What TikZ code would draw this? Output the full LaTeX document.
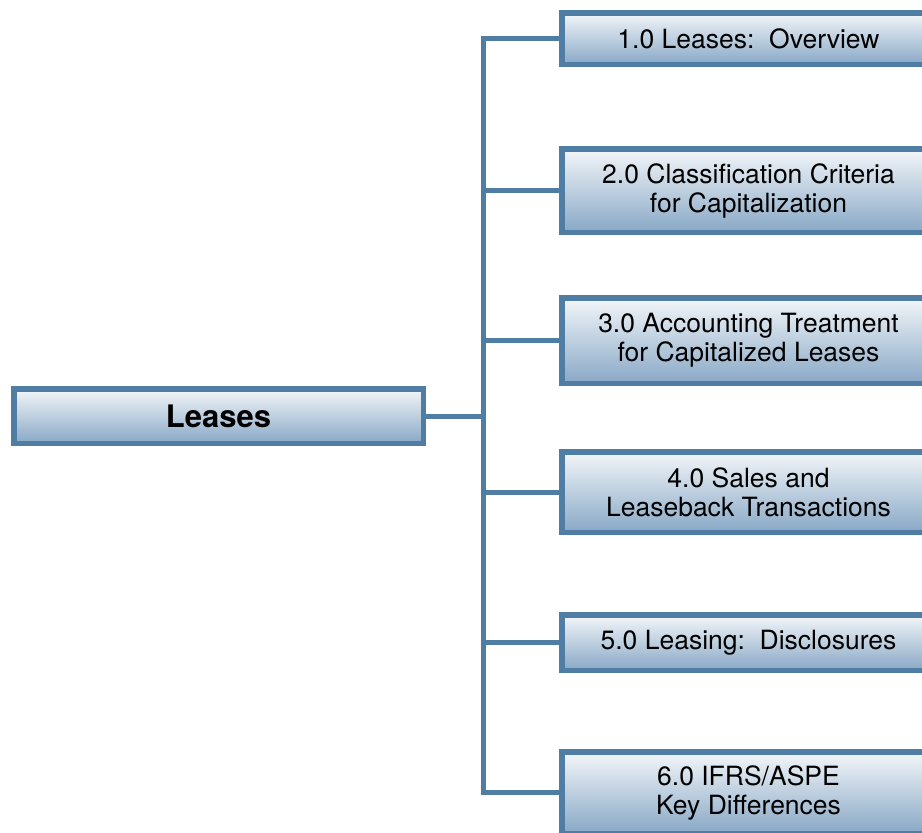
\documentclass[tikz,border=0pt]{standalone}
\usepackage{fontspec}
\setmainfont{TeX Gyre Heros}
\definecolor{edge}{RGB}{79,125,163}
\definecolor{boxtop}{RGB}{243,246,249}
\definecolor{boxbot}{RGB}{136,168,198}
\begin{document}
\begin{tikzpicture}[x=1pt,y=-1pt,
  box/.style={draw=edge, line width=5.5pt, top color=boxtop, bottom color=boxbot,
    inner sep=0pt, align=center, font=\fontsize{26.5}{29}\selectfont, text=black,
    minimum width=373.5pt},
  conn/.style={draw=edge, line width=5pt, line join=miter}]
\useasboundingbox (0,0) rectangle (922,833);
\clip (0,0) rectangle (922,833);
\coordinate (t) at (483.5,0);
\node[box, minimum width=409.5pt, minimum height=54.5pt,
  font=\fontsize{31}{34}\selectfont\bfseries] (root) at (218.5,416) {Leases};
\node[box, minimum height=51.5pt] (b1) at (748.5,38.5) {1.0 Leases:\ \ Overview};
\node[box, minimum height=83.5pt] (b2) at (748.5,190.5) {2.0 Classification Criteria\\for Capitalization};
\node[box, minimum height=85.5pt] (b3) at (748.5,340.5) {3.0 Accounting Treatment\\for Capitalized Leases};
\node[box, minimum height=80.5pt] (b4) at (748.5,492) {4.0 Sales and\\Leaseback Transactions};
\node[box, minimum height=55.5pt] (b5) at (748.5,642.5) {5.0 Leasing:\ \ Disclosures};
\node[box, minimum height=81.5pt] (b6) at (748.5,792.5) {6.0 IFRS/ASPE\\Key Differences};
\draw[conn] (b1.west) -- (b1.west -| t) -- (b6.west -| t) -- (b6.west);
\draw[conn] (b2.west) -- (b2.west -| t);
\draw[conn] (b3.west) -- (b3.west -| t);
\draw[conn] (b4.west) -- (b4.west -| t);
\draw[conn] (b5.west) -- (b5.west -| t);
\draw[conn] (root.east) -- (root.east -| t);
\end{tikzpicture}
\end{document}
